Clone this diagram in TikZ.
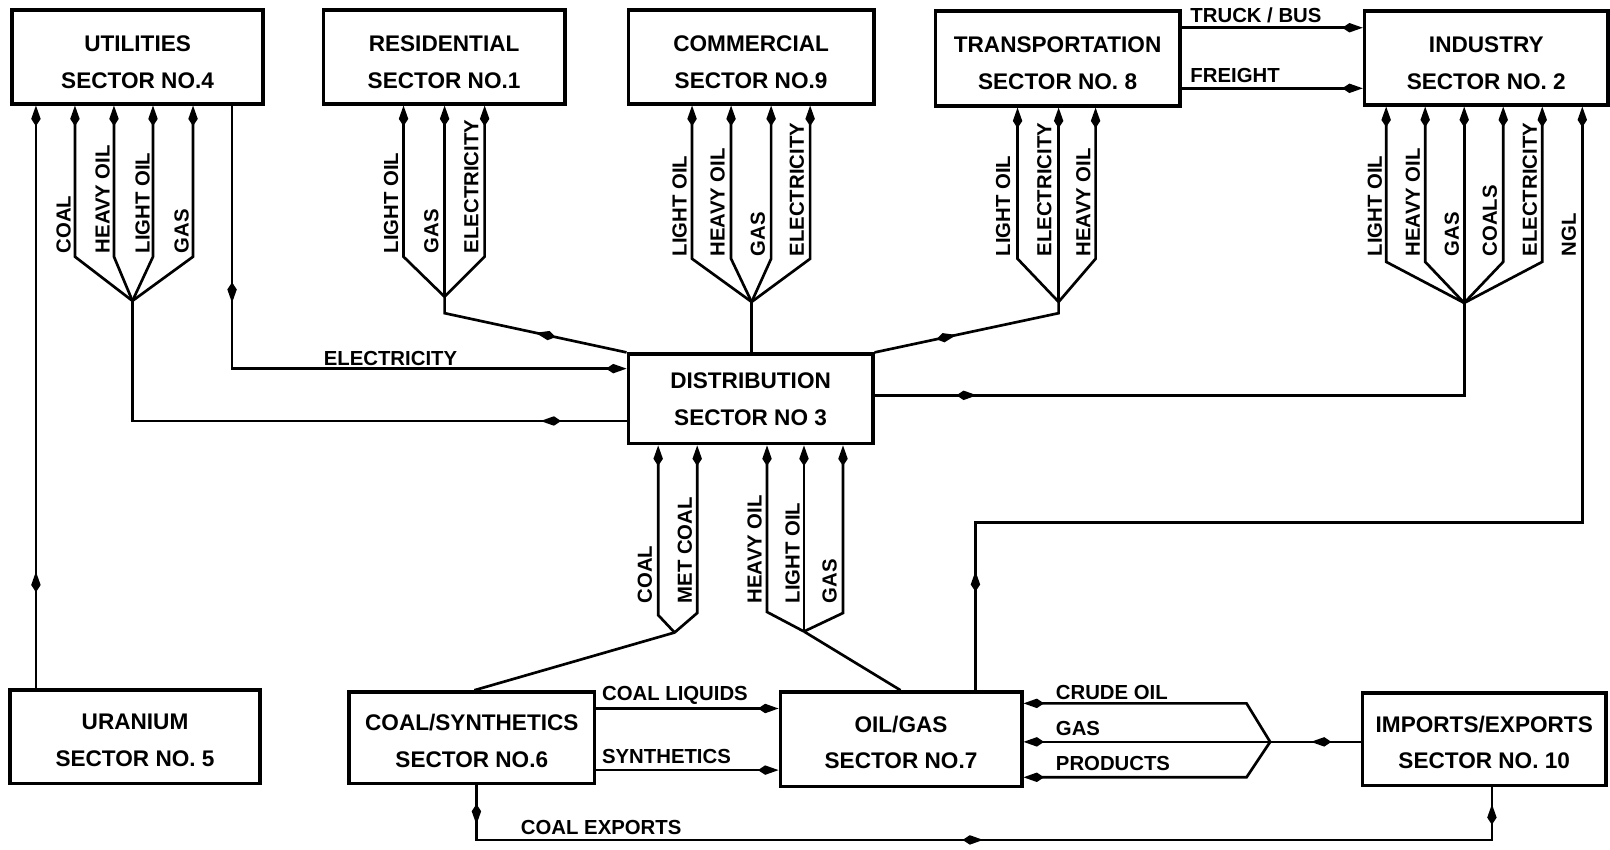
\documentclass[tikz,border=0pt]{standalone}
\usepackage{fontspec}
\setmainfont{Liberation Sans}
\usetikzlibrary{arrows.meta,decorations.markings}
\newcommand{\topstrut}{\rule{0pt}{12.5pt}}
\newcommand{\botstrut}{\rule{0pt}{11pt}}
\tikzset{
  box/.style={draw,line width=1.8pt,rectangle,inner sep=0pt,align=center,
    font=\fontsize{11}{18}\selectfont\bfseries},
  lbl/.style={inner sep=0pt,font=\fontsize{9.9}{11}\selectfont\bfseries},
  vlbl/.style={lbl,rotate=90,anchor=west},
  hlbl/.style={lbl,anchor=west},
  flow/.style={line width=1.3pt,line join=miter},
  kt/.tip={Kite[length=10pt,width=4.6pt,inset=3.5pt]},
  tipend/.style={-kt},
  midtip/.style={postaction={decorate,decoration={markings,mark=at position #1 with {\arrow{kt}}}}},
}
\begin{document}
\begin{tikzpicture}[x=0.5pt,y=-0.5pt]
\fill[white] (0,0) rectangle (1568,827);
\useasboundingbox (0,0) rectangle (1568,827);
% ---------- boxes
\node[box,minimum width=122pt,minimum height=45.5pt] (util) at (134,55.5) {\topstrut UTILITIES\\SECTOR NO.4};
\node[box,minimum width=117.5pt,minimum height=45.5pt] (res) at (432.5,55.5) {\topstrut RESIDENTIAL\\SECTOR NO.1};
\node[box,minimum width=119.5pt,minimum height=45.5pt] (com) at (731.5,55.5) {\topstrut COMMERCIAL\\SECTOR NO.9};
\node[box,minimum width=119pt,minimum height=46pt] (trans) at (1030,57) {\topstrut TRANSPORTATION\\SECTOR NO. 8};
\node[box,minimum width=118.5pt,minimum height=45.5pt] (ind) at (1447.5,56.5) {\topstrut INDUSTRY\\SECTOR NO. 2};
\node[box,minimum width=119pt,minimum height=43.5pt] (dist) at (731,388.5) {DISTRIBUTION\\SECTOR NO 3};
\node[box,minimum width=121.5pt,minimum height=45.5pt] (ura) at (131.5,717.5) {\botstrut URANIUM\\SECTOR NO. 5};
\node[box,minimum width=119.5pt,minimum height=44.5pt] (csyn) at (459.5,718.5) {\botstrut COAL/SYNTHETICS\\SECTOR NO.6};
\node[box,minimum width=117.5pt,minimum height=46pt] (oil) at (877.5,720) {\botstrut OIL/GAS\\SECTOR NO.7};
\node[box,minimum width=118.5pt,minimum height=45pt] (imp) at (1445.5,720) {\botstrut IMPORTS/EXPORTS\\SECTOR NO. 10};
% ---------- utilities
\coordinate (uj) at (129,293);
\foreach \x in {73,111,149,188} {\draw[flow,tipend] (uj) -- (\x,250) -- (\x,0 |- util.south);}
\draw[flow,tipend,midtip=0.2] (35,0 |- ura.north) -- (35,0 |- util.south);
\draw[flow,tipend,midtip=0.3] (226,0 |- util.south) -- (226,359) -- (dist.west |- 0,359);
\draw[flow,midtip=0.14] (dist.west |- 0,410) -- (129,410) -- (uj);
\node[vlbl] (lu1) at (62,247) {COAL};
\node[vlbl] (lu2) at (100,247) {HEAVY OIL};
\node[vlbl] (lu3) at (139,247) {LIGHT OIL};
\node[vlbl] (lu4) at (177,247) {GAS};
\node[hlbl] (lel) at (315,349) {ELECTRICITY};
% ---------- residential
\coordinate (rj) at (433,289);
\foreach \x in {393,472} {\draw[flow,tipend] (rj) -- (\x,250) -- (\x,0 |- res.south);}
\draw[flow,tipend] (rj) -- (433,0 |- res.south);
\draw[flow,midtip=0.46] (dist.north west) -- (433,305) -- (rj);
\node[vlbl] (lr1) at (381,247) {LIGHT OIL};
\node[vlbl] (lr2) at (420,247) {GAS};
\node[vlbl] (lr3) at (459,247) {ELECTRICITY};
% ---------- commercial
\coordinate (cj) at (732,294);
\foreach \x in {674,712,751,789} {\draw[flow,tipend] (cj) -- (\x,252) -- (\x,0 |- com.south);}
\draw[flow] (cj |- dist.north) -- (cj);
\node[vlbl] (lc1) at (662,250) {LIGHT OIL};
\node[vlbl] (lc2) at (699,250) {HEAVY OIL};
\node[vlbl] (lc3) at (738,250) {GAS};
\node[vlbl] (lc4) at (776,250) {ELECTRICITY};
% ---------- transportation
\coordinate (tj) at (1031,294);
\foreach \x in {991,1067} {\draw[flow,tipend] (tj) -- (\x,252) -- (\x,0 |- trans.south);}
\draw[flow,tipend] (tj) -- (1031,0 |- trans.south);
\draw[flow,midtip=0.42] (dist.north east) -- (1031,305) -- (tj);
\node[vlbl] (lt1) at (977,250) {LIGHT OIL};
\node[vlbl] (lt2) at (1017,250) {ELECTRICITY};
\node[vlbl] (lt3) at (1055,250) {HEAVY OIL};
\draw[flow,tipend] (trans.east |- 0,27) -- (ind.west |- 0,27);
\draw[flow,tipend] (trans.east |- 0,86) -- (ind.west |- 0,86);
\node[hlbl] (ltb) at (1159,15) {TRUCK / BUS};
\node[hlbl] (lfr) at (1159,74) {FREIGHT};
% ---------- industry
\coordinate (ij) at (1426,295);
\foreach \x in {1350,1388,1464,1502} {\draw[flow,tipend] (ij) -- (\x,255) -- (\x,0 |- ind.south);}
\draw[flow,tipend] (ij) -- (1426,0 |- ind.south);
\draw[flow,midtip=0.15] (dist.east |- 0,385) -- (1426,385) -- (ij);
\draw[flow,tipend,midtip=0.1] (950,0 |- oil.north) -- (950,509) -- (1541,509) -- (1541,0 |- ind.south);
\node[vlbl] (li1) at (1339,250) {LIGHT OIL};
\node[vlbl] (li2) at (1376,250) {HEAVY OIL};
\node[vlbl] (li3) at (1414,250) {GAS};
\node[vlbl] (li4) at (1451,250) {COALS};
\node[vlbl] (li5) at (1490,250) {ELECTRICITY};
\node[vlbl] (li6) at (1528,250) {NGL};
% ---------- distribution bottom
\coordinate (ccj) at (657,616);
\draw[flow,tipend] (ccj) -- (641,599) -- (641,0 |- dist.south);
\draw[flow,tipend] (ccj) -- (679,597) -- (679,0 |- dist.south);
\draw[flow] (462,0 |- csyn.north) -- (ccj);
\coordinate (ooj) at (783,615);
\draw[flow,tipend] (ooj) -- (747,596) -- (747,0 |- dist.south);
\draw[flow,tipend] (ooj) -- (783,0 |- dist.south);
\draw[flow,tipend] (ooj) -- (821,597) -- (821,0 |- dist.south);
\draw[flow] (877,0 |- oil.north) -- (ooj);
\node[vlbl] (ld1) at (628,588) {COAL};
\node[vlbl] (ld2) at (667,588) {MET COAL};
\node[vlbl] (ld3) at (735,588) {HEAVY OIL};
\node[vlbl] (ld4) at (772,588) {LIGHT OIL};
\node[vlbl] (ld5) at (808,588) {GAS};
% ---------- bottom row
\draw[flow,tipend] (csyn.east |- 0,690) -- (oil.west |- 0,690);
\draw[flow,tipend] (csyn.east |- 0,750) -- (oil.west |- 0,750);
\node[hlbl] (lcl) at (586,677) {COAL LIQUIDS};
\node[hlbl] (lsy) at (586,737) {SYNTHETICS};
\coordinate (gj) at (1237,722.5);
\draw[flow,midtip=0.55] (imp.west |- 0,722.5) -- (gj);
\draw[flow,tipend] (gj) -- (1214,685) -- (oil.east |- 0,685);
\draw[flow,tipend] (gj) -- (oil.east |- 0,722.5);
\draw[flow,tipend] (gj) -- (1214,757) -- (oil.east |- 0,757);
\node[hlbl] (lcr) at (1028,674) {CRUDE OIL};
\node[hlbl] (lga) at (1028,709) {GAS};
\node[hlbl] (lpr) at (1028,744) {PRODUCTS};
\draw[flow,midtip=0.035,midtip=0.5,midtip=0.985] (464,0 |- csyn.south) -- (464,818) -- (1453,818) -- (1453,0 |- imp.south);
\node[hlbl] (lce) at (507,806) {COAL EXPORTS};
\end{tikzpicture}
\end{document}
